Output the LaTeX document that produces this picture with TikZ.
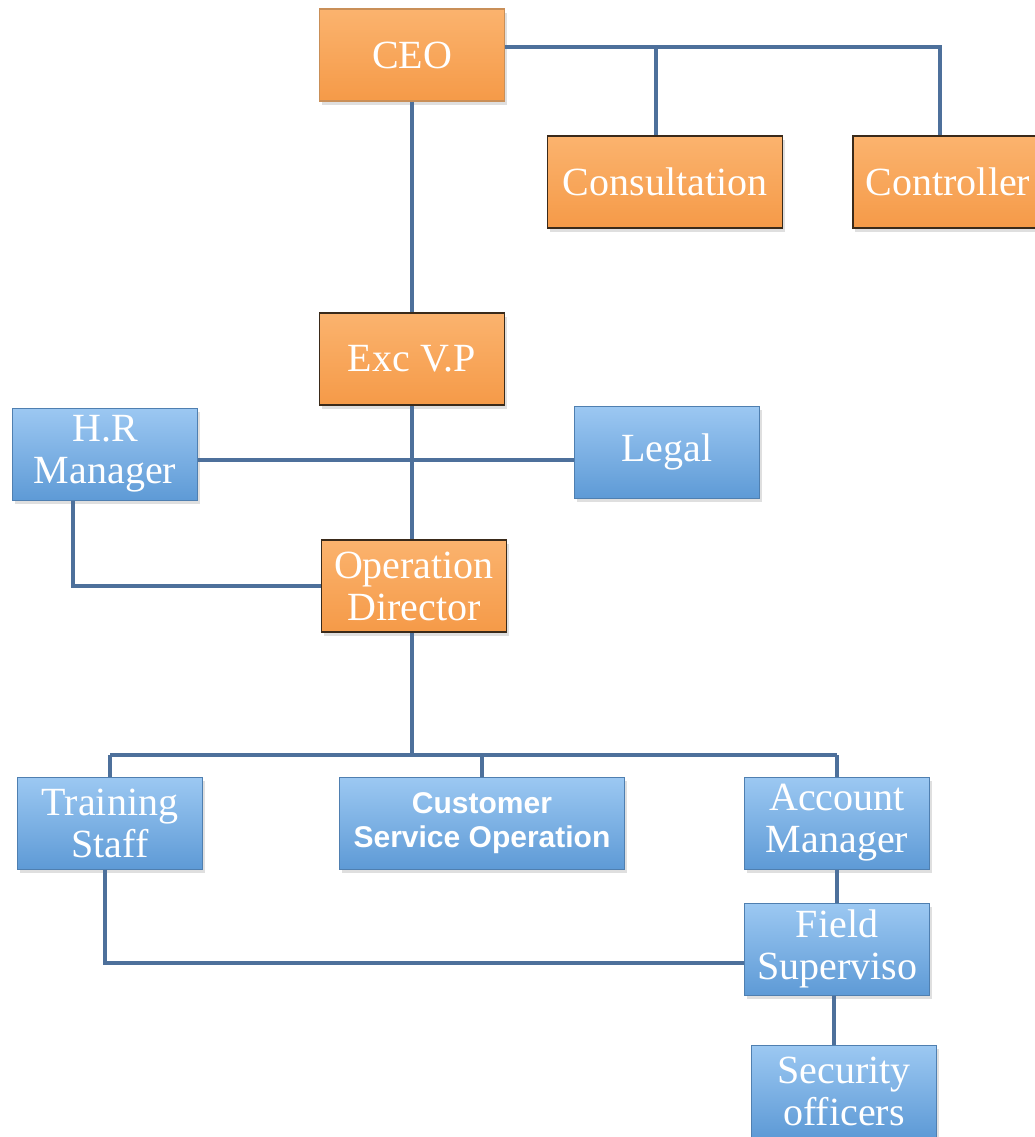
\documentclass[tikz,border=0pt]{standalone}
\usepackage{fontspec}
\setmainfont{Liberation Serif}
\setsansfont{Liberation Sans}
\usetikzlibrary{shadows}

\definecolor{orgtop}{HTML}{FBB36E}
\definecolor{orgbot}{HTML}{F59A48}
\definecolor{orgline}{HTML}{3A2A1A}
\definecolor{bluetop}{HTML}{9CC8F2}
\definecolor{bluebot}{HTML}{5E9AD6}
\definecolor{blueline}{HTML}{4F7FB0}
\definecolor{linkc}{HTML}{4D709B}

\begin{document}
\begin{tikzpicture}[x=1pt,y=-1pt,
  box/.style={rectangle, minimum width=185pt, minimum height=92pt, inner sep=2pt,
    align=center, text=white, font=\fontsize{40}{42}\selectfont,
    drop shadow={opacity=0.25, shadow xshift=2pt, shadow yshift=-4pt}},
  orgbox/.style={box, top color=orgtop, bottom color=orgbot, draw=orgline, line width=1.5pt},
  bluebox/.style={box, top color=bluetop, bottom color=bluebot, draw=blueline, line width=1pt},
  link/.style={draw=linkc, line width=4.5pt}]
  \useasboundingbox[fill=white] (0,0) rectangle (1034,1137);

  % top level
  \node[orgbox, draw=orgtop!80!black] (ceo) at (412,55) {CEO};
  \node[orgbox, minimum width=235pt] (consult) at (665,182) {Consultation};
  \node[orgbox, minimum width=190pt] (control) at (948,182) {Controller};
  \node[orgbox] (excvp) at (412,359) {Exc V.P};

  % middle
  \node[bluebox] (hr) at (105,454) {H.R\\Manager};
  \node[bluebox] (legal) at (667,452) {Legal};
  \node[orgbox] (opdir) at (414,586) {Operation\\Director};

  % bottom
  \node[bluebox] (training) at (110,823) {Training\\Staff};
  \node[bluebox, minimum width=285pt, font=\sffamily\bfseries\fontsize{30}{34}\selectfont] (custserv) at (482,823) {Customer\\Service Operation};
  \node[bluebox] (account) at (837,823) {Account\\Manager};
  \node[bluebox] (field) at (837,949) {Field\\Superviso};
  \node[bluebox] (security) at (844,1091) {Security\\officers};

  \coordinate (topbus) at (505,47);
  \coordinate (bus) at (412,755);

  \draw[link] (topbus) -- (topbus -| 940,0) -- (940,0 |- control.north);
  \draw[link] (topbus -| 656,0) -- (656,0 |- consult.north);
  \draw[link] (ceo.south) -- (ceo.south |- excvp.north);
  \draw[link] (bus |- excvp.south) -- (bus |- opdir.north);
  \draw[link] ([yshift=-6pt]hr.east) -- ([yshift=-6pt]hr.east -| legal.west);
  \draw[link] ([xshift=-32pt]hr.south) |- (opdir.west);

  \draw[link] (bus |- opdir.south) -- (bus);
  \draw[link] (bus -| training.north) -- (bus -| account.north);
  \draw[link] (bus -| training.north) -- (training.north);
  \draw[link] (bus -| custserv.north) -- (custserv.north);
  \draw[link] (bus -| account.north) -- (account.north);

  \draw[link] (account.south) -- (field.north);
  \draw[link] ([xshift=-5pt]training.south) |- ([yshift=-14pt]field.west);
  \draw[link] ([xshift=-3pt]field.south) -- ([xshift=-3pt]field.south |- security.north);
\end{tikzpicture}
\end{document}
